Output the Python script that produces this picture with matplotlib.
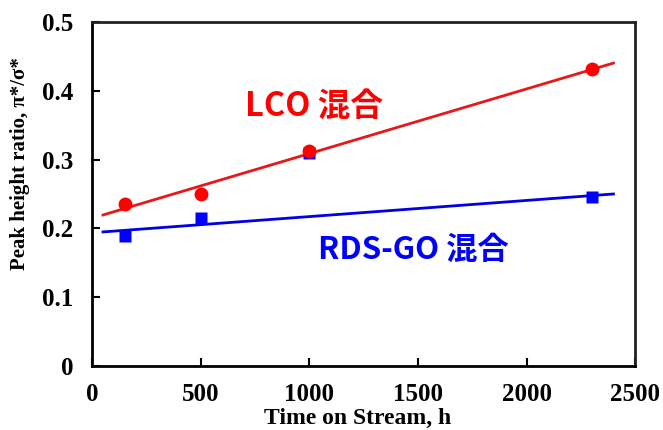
import numpy as np
import matplotlib
matplotlib.use('Agg')
import matplotlib.pyplot as plt

# values
time_h = [150, 500, 1000, 2300]
lco_ratio = [0.236, 0.250, 0.313, 0.431]
rds_time_h = [150, 500, 1000, 2300]
rds_ratio = [0.189, 0.215, 0.309, 0.246]
rds_fit_mask = [True, True, False, True]  # the 1000 h point is left out of the trend line
fit_range = [50, 2400]

fig = plt.figure(figsize=(6.63, 4.30), dpi=100)
ax = fig.add_axes([0.139, 0.149, 0.819, 0.800])

serif = {'family': 'Liberation Serif', 'weight': 'bold'}
cjk = ['Noto Sans CJK JP', 'DejaVu Sans']

# trend lines from a least squares fit
xf = np.array(fit_range)
p_lco = np.polyfit(time_h, lco_ratio, 1)
mask = np.array(rds_fit_mask)
p_rds = np.polyfit(np.array(rds_time_h)[mask], np.array(rds_ratio)[mask], 1)

ax.plot(xf, np.polyval(p_rds, xf), color='#0000E0', lw=2, zorder=2)
ax.plot(xf, np.polyval(p_lco, xf), color='#E81818', lw=2, zorder=2)

ax.plot(rds_time_h, rds_ratio, 's', color='#0000FF', ms=9, mec='none', zorder=3)
ax.plot(time_h, lco_ratio, 'o', color='#FF0000', ms=10, mec='none', zorder=4)

ax.text(704, 0.377, 'LCO 混合', color='#FF0000', fontsize=23.5, fontweight='bold',
        family=cjk, va='center', ha='left')
ax.text(1040, 0.169, 'RDS-GO 混合', color='#0000FF', fontsize=22.5, fontweight='bold',
        family=cjk, va='center', ha='left')

ax.set_xlim(0, 2500)
ax.set_ylim(0, 0.5)
ax.set_xticks([0, 500, 1000, 1500, 2000, 2500])
ax.set_yticks([0, 0.1, 0.2, 0.3, 0.4, 0.5])
ax.set_xticklabels(['0', '500', '1000', '1500', '2000', '2500'])
ax.set_yticklabels(['0', '0.1', '0.2', '0.3', '0.4', '0.5'])
for lab in ax.get_xticklabels() + ax.get_yticklabels():
    lab.set_fontfamily('Liberation Serif')
    lab.set_fontweight('bold')
    lab.set_fontsize(18)
ax.tick_params(direction='in', length=6, width=1.5)
ax.tick_params(axis='y', pad=13.5)
ax.tick_params(axis='x', pad=12.5)

for s in ax.spines.values():
    s.set_linewidth(2)
ax.spines['top'].set_color('#222222')
ax.spines['right'].set_color('#222222')

# x label sits at the very bottom edge, as in the reference
fig.text(0.54, 0.002, 'Time on Stream, h', fontdict=serif, fontsize=17,
         ha='center', va='bottom')
ax.set_ylabel('Peak height ratio, π*/σ*', fontdict=serif, fontsize=15, va='center')
ax.yaxis.set_label_coords(-0.1326, 0.587)

fig.savefig('out.png', dpi=100)
